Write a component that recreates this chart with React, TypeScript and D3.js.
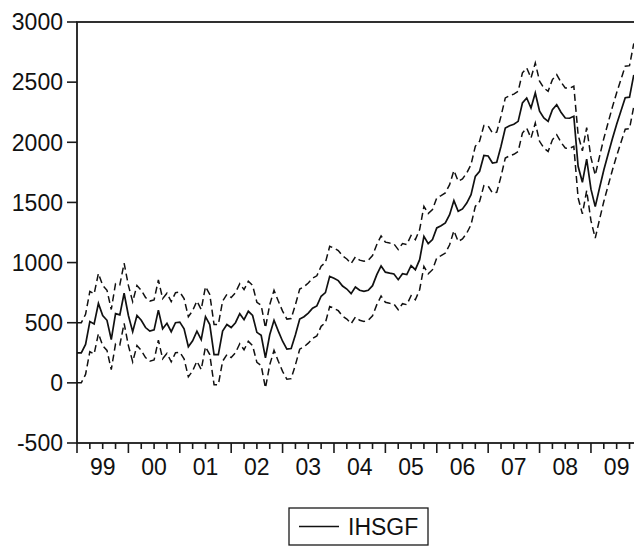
import { useEffect, useRef } from "react";
import * as d3 from "d3";

// monthly obs, 1999M01 .. 2009M11
const yearLabels = ["99", "00", "01", "02", "03", "04", "05", "06", "07", "08", "09"];
const yTicks = [-500, 0, 500, 1000, 1500, 2000, 2500, 3000];

const ihsgf = [
  250, 250, 320, 510, 490, 660, 560, 520, 360, 575,
  565, 745, 560, 425, 560, 520, 460, 430, 440, 605,
  450, 495, 425, 500, 505, 450, 300, 350, 430, 360,
  550, 485, 235, 235, 430, 485, 460, 500, 575, 525,
  595, 560, 420, 395, 207, 400, 520, 430, 346, 280,
  285, 400, 530, 550, 580, 620, 640, 720, 750, 885,
  870, 850, 805, 780, 742, 797, 770, 761, 770, 808,
  900, 972, 920, 912, 905, 858, 908, 900, 975, 941,
  1024, 1218, 1157, 1191, 1288, 1307, 1329, 1398, 1515, 1426,
  1446, 1495, 1565, 1717, 1759, 1890, 1886, 1828, 1834, 1967,
  2119, 2138, 2150, 2174, 2327, 2368, 2285, 2410, 2258, 2202,
  2174, 2271, 2313, 2250, 2202, 2200, 2216, 1800, 1667, 1860,
  1610, 1465, 1620, 1770, 1900, 2030, 2150, 2260, 2370, 2375,
  2560,
];

// +/- 2 S.E. bands
const upper = [
  500, 500, 570, 760, 740, 910, 810, 770, 610, 825,
  815, 995, 810, 675, 810, 770, 710, 680, 690, 855,
  700, 745, 675, 750, 755, 700, 550, 600, 680, 610,
  800, 735, 485, 485, 680, 735, 710, 750, 825, 775,
  845, 810, 670, 645, 457, 650, 770, 680, 596, 530,
  535, 650, 780, 800, 830, 870, 890, 970, 1000, 1135,
  1120, 1100, 1055, 1030, 992, 1047, 1020, 1011, 1020, 1058,
  1150, 1222, 1170, 1162, 1155, 1108, 1158, 1150, 1225, 1191,
  1274, 1468, 1407, 1441, 1538, 1557, 1579, 1648, 1765, 1676,
  1696, 1745, 1815, 1967, 2009, 2140, 2136, 2078, 2084, 2217,
  2369, 2388, 2400, 2424, 2577, 2618, 2535, 2660, 2508, 2452,
  2424, 2521, 2563, 2500, 2452, 2450, 2466, 2062, 1929, 2122,
  1872, 1727, 1882, 2032, 2162, 2292, 2412, 2522, 2632, 2637,
  2822,
];

const lower = [
  0, 0, 70, 260, 240, 410, 310, 270, 110, 325,
  315, 495, 310, 175, 310, 270, 210, 180, 190, 355,
  200, 245, 175, 250, 255, 200, 50, 100, 180, 110,
  300, 235, -15, -15, 180, 235, 210, 250, 325, 275,
  345, 310, 170, 145, -43, 150, 270, 180, 96, 30,
  35, 150, 280, 300, 330, 370, 390, 470, 500, 635,
  620, 600, 555, 530, 492, 547, 520, 511, 520, 558,
  650, 722, 670, 662, 655, 608, 658, 650, 725, 691,
  774, 968, 907, 941, 1038, 1057, 1079, 1148, 1265, 1176,
  1196, 1245, 1315, 1467, 1509, 1640, 1636, 1578, 1584, 1717,
  1869, 1888, 1900, 1924, 2077, 2118, 2035, 2160, 2008, 1952,
  1924, 2021, 2063, 2000, 1952, 1950, 1966, 1538, 1405, 1598,
  1348, 1203, 1358, 1508, 1638, 1768, 1888, 1998, 2108, 2113,
  2298,
];

const W = 634;
const H = 547;
const M = { left: 77, top: 22, bottom: 443 };
const monthPx = 4.283;
const FONT = "'Liberation Sans', Arial, sans-serif";
const FS = 23;

export default function App() {
  const ref = useRef<SVGSVGElement | null>(null);

  useEffect(() => {
    const svg = d3.select(ref.current);
    svg.selectAll("*").remove();

    const nMonths = yearLabels.length * 12;
    const x = d3.scaleLinear().domain([0, nMonths]).range([M.left, M.left + nMonths * monthPx]);
    const y = d3.scaleLinear().domain([-500, 3000]).range([M.bottom, M.top]);

    const line = d3
      .line<number>()
      .x((_, i) => x(i))
      .y((d) => y(d));

    // frame
    svg
      .append("rect")
      .attr("x", M.left)
      .attr("y", M.top)
      .attr("width", x(nMonths) - M.left)
      .attr("height", M.bottom - M.top)
      .attr("fill", "none")
      .attr("stroke", "#1a1a1a")
      .attr("stroke-width", 1.8);

    // y axis
    const yAxis = svg.append("g");
    yTicks.forEach((t) => {
      yAxis
        .append("line")
        .attr("x1", M.left - 10)
        .attr("x2", M.left)
        .attr("y1", y(t))
        .attr("y2", y(t))
        .attr("stroke", "#1a1a1a")
        .attr("stroke-width", 1.6);
      yAxis
        .append("text")
        .attr("x", M.left - 14)
        .attr("y", y(t))
        .attr("dy", "0.36em")
        .attr("text-anchor", "end")
        .attr("font-family", FONT)
        .attr("font-size", FS)
        .attr("fill", "#111")
        .text(String(t));
    });

    // x axis: major ticks at years, minor at quarters
    const xAxis = svg.append("g");
    d3.range(0, nMonths + 1, 3).forEach((m) => {
      const major = m % 12 === 0;
      xAxis
        .append("line")
        .attr("x1", x(m))
        .attr("x2", x(m))
        .attr("y1", M.bottom)
        .attr("y2", M.bottom + (major ? 10 : 6))
        .attr("stroke", "#1a1a1a")
        .attr("stroke-width", 1.6);
    });
    yearLabels.forEach((lab, k) => {
      xAxis
        .append("text")
        .attr("x", x(k * 12 + 6))
        .attr("y", M.bottom + 24)
        .attr("dy", "0.36em")
        .attr("text-anchor", "middle")
        .attr("font-family", FONT)
        .attr("font-size", FS)
        .attr("fill", "#111")
        .text(lab);
    });

    // series
    [upper, lower].forEach((s) => {
      svg
        .append("path")
        .attr("d", line(s))
        .attr("fill", "none")
        .attr("stroke", "#111")
        .attr("stroke-width", 1.5)
        .attr("stroke-dasharray", "7,4");
    });
    svg
      .append("path")
      .attr("d", line(ihsgf))
      .attr("fill", "none")
      .attr("stroke", "#111")
      .attr("stroke-width", 1.7);

    // legend
    const lg = svg.append("g");
    lg.append("rect")
      .attr("x", 289)
      .attr("y", 508)
      .attr("width", 139)
      .attr("height", 37)
      .attr("fill", "none")
      .attr("stroke", "#1a1a1a")
      .attr("stroke-width", 1.3);
    lg.append("line")
      .attr("x1", 299)
      .attr("x2", 339)
      .attr("y1", 526.5)
      .attr("y2", 526.5)
      .attr("stroke", "#111")
      .attr("stroke-width", 1.5);
    lg.append("text")
      .attr("x", 348)
      .attr("y", 526.5)
      .attr("dy", "0.36em")
      .attr("font-family", FONT)
      .attr("font-size", FS)
      .attr("fill", "#111")
      .text("IHSGF");
  }, []);

  return (
    <svg
      ref={ref}
      width={W}
      height={H}
      style={{ position: "absolute", left: 0, top: 0, background: "#fff" }}
    />
  );
}
